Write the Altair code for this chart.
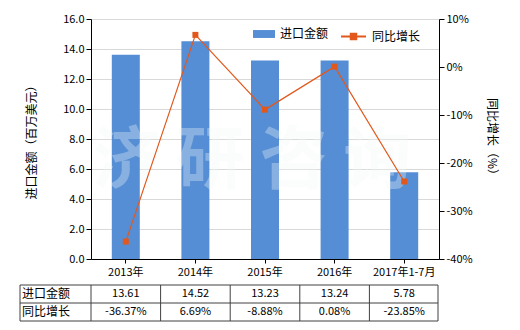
import altair as alt
import pandas as pd

categories = ["2013年", "2014年", "2015年", "2016年", "2017年1-7月"]
amount = [13.61, 14.52, 13.23, 13.24, 5.78]
growth = [-36.37, 6.69, -8.88, 0.08, -23.85]
amount_labels = ["13.61", "14.52", "13.23", "13.24", "5.78"]
growth_labels = ["-36.37%", "6.69%", "-8.88%", "0.08%", "-23.85%"]
row_labels = ["进口金额", "同比增长"]
left_ticks = [0, 2, 4, 6, 8, 10, 12, 14, 16]
right_ticks = [-40, -30, -20, -10, 0, 10]
watermark = "济 研 咨 询"

FONT = "Noto Sans CJK SC"
BAR = "#558ED5"
LINE = "#E2581C"
GRID = "#D9D9D9"
TABLE = "#404040"

W, H = 348, 240

df = pd.DataFrame({
    "cat": categories,
    "amount": amount,
    "growth": growth,
    "amount_label": amount_labels,
    "growth_label": growth_labels,
    "s1": row_labels[0],
    "s2": row_labels[1],
})

xenc = alt.X(
    "cat:N", sort=categories,
    scale=alt.Scale(paddingInner=0, paddingOuter=0),
    axis=alt.Axis(title=None, labelAngle=0, domainColor="black", tickColor="black",
                  tickSize=4, labelFontSize=11, labelPadding=3, labelColor="black",
                  labelFont=FONT),
)

base = alt.Chart(df)

bars = base.mark_bar(size=28).encode(
    x=xenc,
    y=alt.Y("amount:Q", scale=alt.Scale(domain=[0, 16], nice=False),
            axis=alt.Axis(values=left_ticks, format=".1f", grid=True, gridColor=GRID,
                          domainColor="black", tickColor="black", tickSize=5,
                          labelFontSize=11, labelColor="black", labelFont=FONT,
                          title="进口金额（百万美元）", titleFontSize=12,
                          titleFontWeight="normal", titleFont=FONT, titlePadding=24,
                          titleColor="black")),
    color=alt.Color("s1:N", scale=alt.Scale(domain=[row_labels[0]], range=[BAR]),
                    legend=alt.Legend(title=None, orient="none", legendX=162, legendY=4,
                                      symbolType="M-1,-0.36H1V0.36H-1Z", symbolSize=484,
                                      symbolStrokeWidth=0, labelFontSize=12, labelFont=FONT,
                                      labelColor="black", labelOffset=5)),
)

wm = alt.Chart(pd.DataFrame({"t": [watermark]})).mark_text(
    fontSize=68, fontWeight="bold", font=FONT, color="#F3F7F7", opacity=0.32
).encode(text="t:N", x=alt.value(161), y=alt.value(144))

line = base.mark_line(strokeWidth=1.2, point=alt.OverlayMarkDef(shape="square", size=36, filled=True)).encode(
    x=xenc,
    y=alt.Y("growth:Q", scale=alt.Scale(domain=[-40, 10], nice=False),
            axis=alt.Axis(orient="right", values=right_ticks, labelExpr="datum.value + '%'",
                          grid=False, domainColor="black", tickColor="black", tickSize=5,
                          labelFontSize=11, labelColor="black", labelFont=FONT,
                          title="同比增长（%）", titleFontSize=12, titleFontWeight="normal",
                          titleFont=FONT, titlePadding=12, titleColor="black")),
    color=alt.Color("s2:N", scale=alt.Scale(domain=[row_labels[1]], range=[LINE]),
                    legend=alt.Legend(title=None, orient="none", legendX=249, legendY=4,
                                      symbolType="M-1,0H1M-0.22,-0.22H0.22V0.22H-0.22Z",
                                      symbolSize=625, symbolFillColor=LINE,
                                      symbolStrokeWidth=2, labelFontSize=12, labelFont=FONT,
                                      labelColor="black", labelOffset=5)),
)

# table below the chart
row1 = base.mark_text(fontSize=11, font=FONT, color="black").encode(
    x=alt.X("cat:N", sort=categories), text="amount_label:N", y=alt.value(275))
row2 = base.mark_text(fontSize=11, font=FONT, color="black").encode(
    x=alt.X("cat:N", sort=categories), text="growth_label:N", y=alt.value(293))
lab_df = pd.DataFrame({"label": row_labels})
lab1 = alt.Chart(lab_df).transform_filter(alt.datum.label == row_labels[0]).mark_text(
    fontSize=12, font=FONT, color="black", align="left").encode(
    text="label:N", x=alt.value(-69), y=alt.value(275))
lab2 = alt.Chart(lab_df).transform_filter(alt.datum.label == row_labels[1]).mark_text(
    fontSize=12, font=FONT, color="black", align="left").encode(
    text="label:N", x=alt.value(-69), y=alt.value(293))

one = pd.DataFrame({"k": [0]})
hrules = [
    alt.Chart(one).mark_rule(color=TABLE, strokeWidth=1).encode(
        x=alt.value(-71), x2=alt.value(W - 1), y=alt.value(yy))
    for yy in (266, 284, 302)
]
vrules = base.mark_rule(color=TABLE, strokeWidth=1).encode(
    x=alt.X("cat:N", sort=categories, bandPosition=0), y=alt.value(266), y2=alt.value(302))
edge_rules = [
    alt.Chart(one).mark_rule(color=TABLE, strokeWidth=1).encode(
        x=alt.value(xx), y=alt.value(266), y2=alt.value(302))
    for xx in (-71, W - 1)
]

chart = alt.layer(
    bars, wm, line, row1, row2, lab1, lab2, vrules, *hrules, *edge_rules
).resolve_scale(y="independent", color="independent").properties(
    width=W, height=H,
    autosize=alt.AutoSizeParams(type="none"),
    padding={"left": 91, "top": 19, "right": 81, "bottom": 71},
    background="white",
).configure_view(stroke=None)

chart.save("out.html", embed_options={"renderer": "svg", "actions": False})
